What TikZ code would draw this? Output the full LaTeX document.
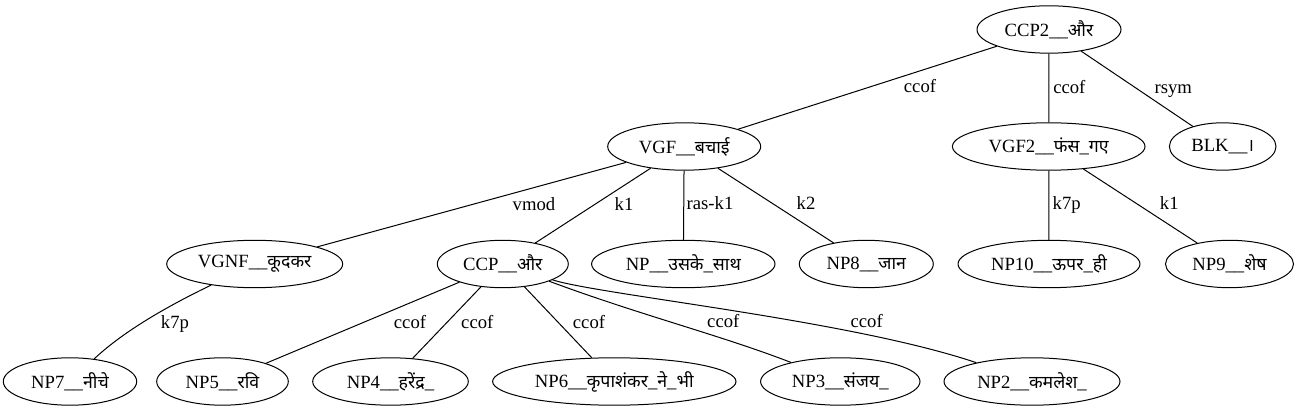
\documentclass[tikz,border=0pt]{standalone}
\usepackage{fontspec}
\IfFontExistsTF{LiberationSerif-Regular.ttf}
  {\newfontfamily\latn{LiberationSerif}[Extension=.ttf,UprightFont=*-Regular]}
  {\newfontfamily\latn{Liberation Serif}}
\newfontfamily\deva[Script=Devanagari,Scale=0.95]{Noto Sans}
\usetikzlibrary{shapes.geometric}
\newcommand\dv[1]{{\deva #1}}
\begin{document}
\begin{tikzpicture}[x=1pt,y=-1pt,
  every node/.style={font=\latn\fontsize{18.67}{22}\selectfont},
  nd/.style={draw, ellipse, inner sep=0pt, minimum height=47.4pt, line width=1pt},
  lbl/.style={anchor=base, inner sep=0pt},
  conn/.style={line width=1pt}]
\useasboundingbox (0,0) rectangle (1300,411);
% rank 1
\node[nd, minimum width=144pt] (ccp2) at (1049,29.5) {CCP2\_\_\dv{और}};
% rank 2
\node[nd, minimum width=153pt] (vgf) at (684.2,146.5) {VGF\_\_\dv{बचाई}};
\node[nd, minimum width=192.6pt] (vgf2) at (1048.7,146.5) {VGF2\_\_\dv{फंस}\_\dv{गए}};
\node[nd, minimum width=106.6pt] (blk) at (1222.7,146.5) {BLK\_\_\dv{।}};
% rank 3
\node[nd, minimum width=176pt] (vgnf) at (254.7,264) {VGNF\_\_\dv{कूदकर}};
\node[nd, minimum width=131pt] (ccp) at (502.8,264) {CCP\_\_\dv{और}};
\node[nd, minimum width=183.4pt] (npu) at (683.3,264) {NP\_\_\dv{उसके}\_\dv{साथ}};
\node[nd, minimum width=134pt] (np8) at (866.3,264) {NP8\_\_\dv{जान}};
\node[nd, minimum width=182pt] (np10) at (1049,264) {NP10\_\_\dv{ऊपर}\_\dv{ही}};
\node[nd, minimum width=128pt] (np9) at (1229.5,264) {NP9\_\_\dv{शेष}};
% rank 4
\node[nd, minimum width=133.4pt] (np7) at (70,381.5) {NP7\_\_\dv{नीचे}};
\node[nd, minimum width=131.6pt] (np5) at (222.5,381.5) {NP5\_\_\dv{रवि}};
\node[nd, minimum width=155.6pt] (np4) at (390.5,381.5) {NP4\_\_\dv{हरेंद्र}\_};
\node[nd, minimum width=243.4pt] (np6) at (614.3,381.5) {NP6\_\_\dv{कृपाशंकर}\_\dv{ने}\_\dv{भी}};
\node[nd, minimum width=159.4pt] (np3) at (840.3,381.5) {NP3\_\_\dv{संजय}\_};
\node[nd, minimum width=176pt] (np2) at (1032,381.5) {NP2\_\_\dv{कमलेश}\_};
% edges
\draw[conn] (ccp2) -- (vgf);
\draw[conn] (ccp2) -- (vgf2);
\draw[conn] (ccp2) -- (blk);
\draw[conn] (vgf) -- (vgnf);
\draw[conn] (vgf) -- (ccp);
\draw[conn] (vgf) -- (npu);
\draw[conn] (vgf) -- (np8);
\draw[conn] (vgf2) -- (np10);
\draw[conn] (vgf2) -- (np9);
\draw[conn] (vgnf) .. controls (170,305) and (125,330) .. (np7);
\draw[conn] (ccp) -- (np5);
\draw[conn] (ccp) -- (np4);
\draw[conn] (ccp) -- (np6);
\draw[conn] (ccp) .. controls (640,315) and (720,335) .. (np3);
\draw[conn] (ccp) .. controls (600,295) and (850,320) .. (np2);
% labels
\node[lbl] (l1) at (920,93) {ccof};
\node[lbl] (l2) at (1069.3,94) {ccof};
\node[lbl] (l3) at (1173.3,94) {rsym};
\node[lbl] (l4) at (534,210.5) {vmod};
\node[lbl] (l5) at (624,210.5) {k1};
\node[lbl] (l6) at (710,210) {ras-k1};
\node[lbl] (l7) at (806,210) {k2};
\node[lbl] (l8) at (1066.7,210) {k7p};
\node[lbl] (l9) at (1169.3,210) {k1};
\node[lbl] (l10) at (175,329) {k7p};
\node[lbl] (l11) at (410,328.2) {ccof};
\node[lbl] (l12) at (477.3,328.2) {ccof};
\node[lbl] (l13) at (589,328.2) {ccof};
\node[lbl] (l14) at (723.3,327.2) {ccof};
\node[lbl] (l15) at (866.7,327.2) {ccof};
\end{tikzpicture}
\end{document}
